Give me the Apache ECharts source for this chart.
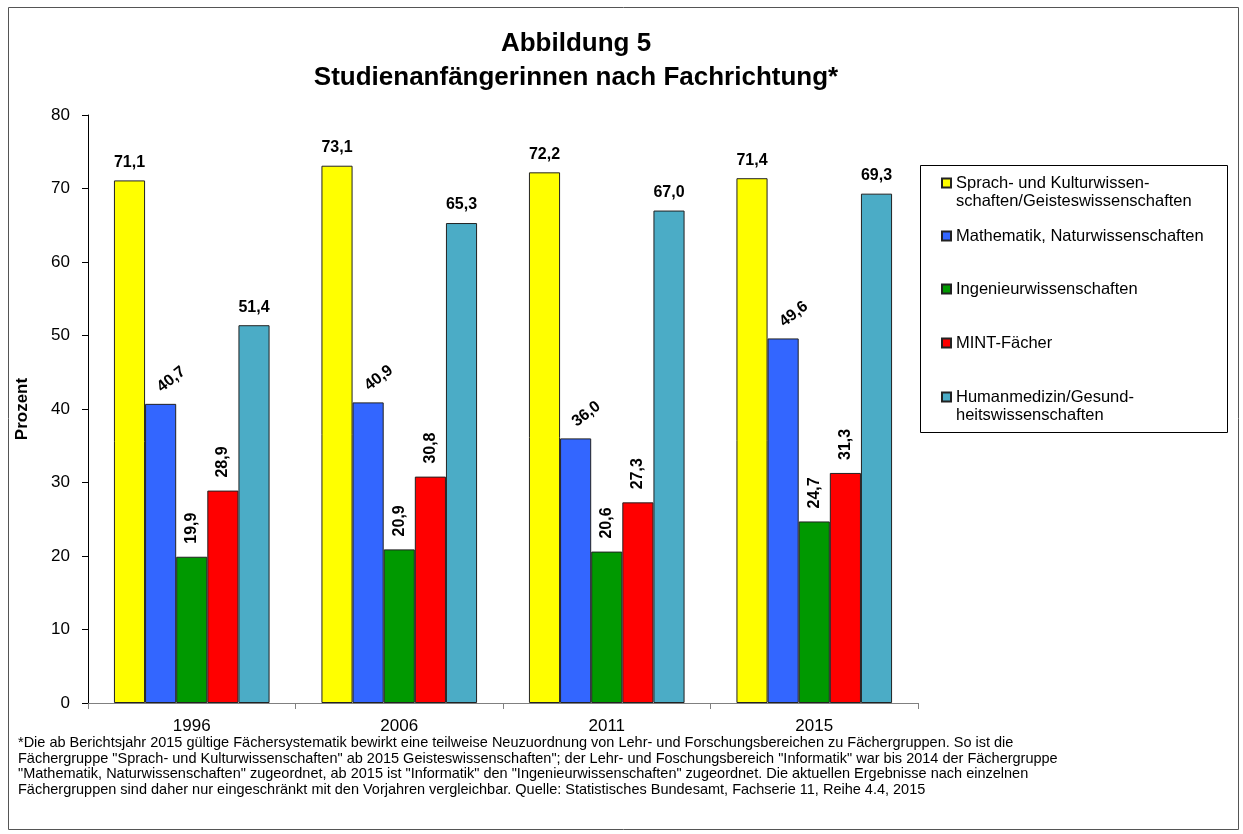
<!DOCTYPE html>
<html>
<head>
<meta charset="utf-8">
<script src="https://cdn.jsdelivr.net/npm/echarts@6/dist/echarts.min.js"></script>
<style>
html,body{margin:0;padding:0;background:#fff;}
#chart{width:1243px;height:834px;}
</style>
</head>
<body>
<div id="chart"></div>
<script>
const categories = ['1996', '2006', '2011', '2015'];
const seriesNames = [
  'Sprach- und Kulturwissenschaften/Geisteswissenschaften',
  'Mathematik, Naturwissenschaften',
  'Ingenieurwissenschaften',
  'MINT-Fächer',
  'Humanmedizin/Gesundheitswissenschaften'
];
const legendTexts = [
  '\nSprach- und Kulturwissen-\nschaften/Geisteswissenschaften',
  'Mathematik, Naturwissenschaften',
  'Ingenieurwissenschaften',
  'MINT-Fächer',
  '\nHumanmedizin/Gesund-\nheitswissenschaften'
];
const sprachKultur = [71.1, 73.1, 72.2, 71.4];
const matheNatur = [40.7, 40.9, 36.0, 49.6];
const ingenieur = [19.9, 20.9, 20.6, 24.7];
const mint = [28.9, 30.8, 27.3, 31.3];
const humanmedizin = [51.4, 65.3, 67.0, 69.3];
const yMin = 0, yMax = 80, yStep = 10;
const titleText = 'Abbildung 5\nStudienanfängerinnen nach Fachrichtung*';
const yAxisName = 'Prozent';
const footnote = '*Die ab Berichtsjahr 2015 gültige Fächersystematik bewirkt eine teilweise Neuzuordnung von Lehr- und Forschungsbereichen zu Fächergruppen. So ist die\n' +
  'Fächergruppe "Sprach- und Kulturwissenschaften" ab 2015 Geisteswissenschaften"; der Lehr- und Foschungsbereich "Informatik" war bis 2014 der Fächergruppe\n' +
  '"Mathematik, Naturwissenschaften" zugeordnet, ab 2015 ist "Informatik" den "Ingenieurwissenschaften" zugeordnet. Die aktuellen Ergebnisse nach einzelnen\n' +
  'Fächergruppen sind daher nur eingeschränkt mit den Vorjahren vergleichbar. Quelle: Statistisches Bundesamt, Fachserie 11, Reihe 4.4, 2015';

const FONT = '"Liberation Sans", Arial, Helvetica, sans-serif';
const colors = ['#FFFF00', '#3366FF', '#009900', '#FF0000', '#4BACC6'];
const values = [sprachKultur, matheNatur, ingenieur, mint, humanmedizin];
const fmt = p => p.value.toFixed(1).replace('.', ',');

const labelStyles = [
  { show: true, position: 'top', distance: 10 },
  { show: true, position: 'top', distance: 16, rotate: 38, align: 'left', verticalAlign: 'middle', offset: [-2, 0] },
  { show: true, position: 'top', distance: 13, rotate: 90, align: 'left', verticalAlign: 'middle' },
  { show: true, position: 'top', distance: 13, rotate: 90, align: 'left', verticalAlign: 'middle' },
  { show: true, position: 'top', distance: 10 }
];

const series = seriesNames.map((name, i) => ({
  name: name,
  type: 'bar',
  data: values[i],
  barGap: '0%',
  barCategoryGap: '25%',
  itemStyle: { color: colors[i], borderColor: '#222', borderWidth: 1 },
  label: Object.assign({
    formatter: fmt,
    fontFamily: FONT,
    fontSize: 16,
    fontWeight: 'bold',
    color: '#000'
  }, labelStyles[i]),
  emphasis: { disabled: true }
}));

const legendIconCenters = [183, 236, 289, 343, 397];
const legends = seriesNames.map((name, i) => {
  const twoLine = legendTexts[i].startsWith('\n');
  return {
    data: [name],
    orient: 'vertical',
    left: 941,
    top: legendIconCenters[i] - (twoLine ? 27 : 9),
    padding: 0,
    itemWidth: 9,
    itemHeight: 9,
    icon: 'rect',
    selectedMode: false,
    formatter: () => legendTexts[i],
    textStyle: { fontFamily: FONT, fontSize: 16.5, lineHeight: 18, color: '#000' }
  };
});

const chart = echarts.init(document.getElementById('chart'), null, { renderer: 'canvas' });
chart.setOption({
  animation: false,
  backgroundColor: '#fff',
  title: [
    {
      text: titleText,
      left: 576,
      top: 27,
      padding: 0,
      textAlign: 'center',
      textStyle: { fontFamily: FONT, fontSize: 26, fontWeight: 'bold', lineHeight: 34, color: '#000' }
    },
    {
      text: footnote,
      left: 18,
      top: 735,
      padding: 0,
      textStyle: { fontFamily: FONT, fontSize: 14.5, fontWeight: 'normal', lineHeight: 15.7, color: '#000' }
    }
  ],
  legend: legends,
  grid: { left: 88, right: 325, top: 115, bottom: 131, containLabel: false },
  xAxis: {
    type: 'category',
    data: categories,
    axisLine: { lineStyle: { color: '#808080', width: 1 } },
    axisTick: { show: true, length: 6, lineStyle: { color: '#808080' } },
    axisLabel: { fontFamily: FONT, fontSize: 17, color: '#000', margin: 15 }
  },
  yAxis: {
    type: 'value',
    min: yMin,
    max: yMax,
    interval: yStep,
    name: yAxisName,
    nameLocation: 'middle',
    nameGap: 57,
    nameTextStyle: { fontFamily: FONT, fontSize: 17, fontWeight: 'bold', color: '#000' },
    axisLine: { show: true, lineStyle: { color: '#000', width: 1 } },
    axisTick: { show: true, length: 6, lineStyle: { color: '#000' } },
    splitLine: { show: false },
    axisLabel: { fontFamily: FONT, fontSize: 17, color: '#000', margin: 18 }
  },
  graphic: [
    {
      type: 'rect',
      shape: { x: 8.5, y: 7.5, width: 1230, height: 822 },
      style: { fill: 'none', stroke: '#555', lineWidth: 1 },
      silent: true, z: -1
    },
    {
      type: 'rect',
      shape: { x: 920.5, y: 165.5, width: 307, height: 267 },
      style: { fill: 'none', stroke: '#000', lineWidth: 1 },
      silent: true, z: -1
    }
  ],
  series: series
});
</script>
</body>
</html>
